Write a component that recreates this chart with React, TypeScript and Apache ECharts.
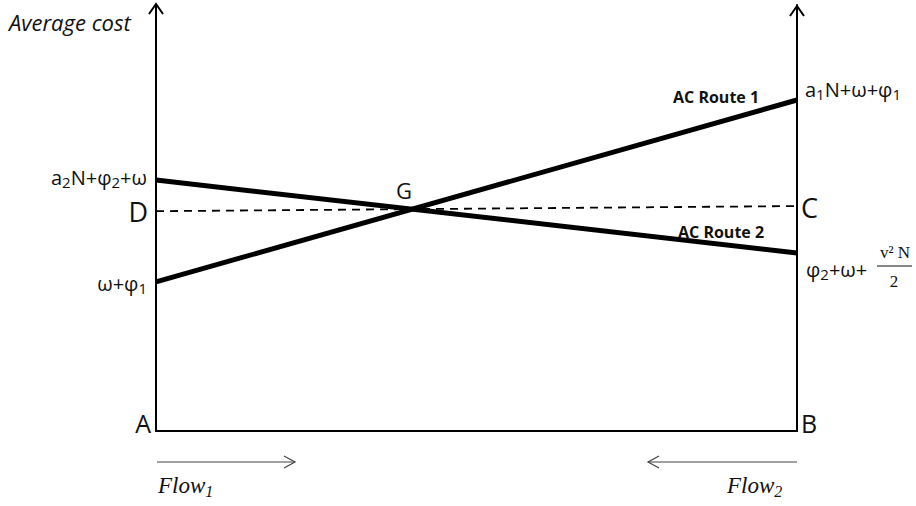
import React, { useEffect, useRef } from "react";
import * as echarts from "echarts";

const xs = [0, 100];
const route1 = [35.0, 77.7];
const route2 = [58.9, 41.8];
const equilibrium = [51.6, 52.8];

const GRID = { left: 156, right: 119, top: 5, bottom: 75 };
const TXT = "#111";
const SANS = "'Open Sans', 'Noto Sans', sans-serif";
const SERIF = "'Liberation Serif', 'DejaVu Serif', serif";

function pts(ys: number[]) {
  return xs.map((x, i) => [x, ys[i]]);
}

// parts: text with "_x" meaning subscript x, separated as array entries
function rt(
  x: number,
  y: number,
  parts: string[],
  size: number,
  sub: number,
  opt: any = {}
) {
  const fam = opt.family || SANS;
  const st = opt.style || "normal";
  const lh = Math.round(size * 1.2);
  const text = parts
    .map((p) => (p.startsWith("_") ? `{s|${p.slice(1)}}` : `{m|${p}}`))
    .join("");
  return {
    type: "text",
    x,
    y,
    style: {
      text,
      textAlign: opt.align || "left",
      textVerticalAlign: "middle",
      rich: {
        m: {
          fill: TXT,
          fontSize: size,
          fontFamily: fam,
          fontStyle: st,
          fontWeight: opt.weight || "normal",
          lineHeight: lh,
          verticalAlign: "middle",
        },
        s: {
          fill: TXT,
          fontSize: sub,
          fontFamily: fam,
          fontStyle: st,
          lineHeight: sub,
          verticalAlign: "bottom",
        },
      },
    },
  };
}

export default function App() {
  const ref = useRef<HTMLDivElement>(null);
  useEffect(() => {
    document.body.style.margin = "0";
    if (!ref.current) return;
    const chart = echarts.init(ref.current, null, { renderer: "svg" });
    const axisLine = { show: true, lineStyle: { color: "#000", width: 2 } };
    const hidden = {
      axisTick: { show: false },
      axisLabel: { show: false },
      splitLine: { show: false },
    };
    chart.setOption({
      animation: false,
      grid: GRID,
      xAxis: { type: "value", min: 0, max: 100, axisLine, ...hidden },
      yAxis: [
        { type: "value", min: 0, max: 100, axisLine, ...hidden },
        {
          type: "value",
          min: 0,
          max: 100,
          position: "right",
          axisLine: { ...axisLine, onZero: false },
          ...hidden,
        },
      ],
      series: [
        {
          type: "line",
          name: "AC Route 1",
          data: pts(route1),
          symbol: "none",
          lineStyle: { color: "#000", width: 5 },
        },
        {
          type: "line",
          name: "AC Route 2",
          data: pts(route2),
          symbol: "none",
          lineStyle: { color: "#000", width: 5 },
        },
        {
          type: "line",
          name: "DC",
          data: pts(equilibrium),
          symbol: "none",
          lineStyle: { color: "#000", width: 1.8, type: [8, 6] },
        },
      ],
      graphic: [
        // axis arrow heads
        { type: "polyline", shape: { points: [[149, 14], [156, 4], [163, 14]] }, style: { stroke: "#000", lineWidth: 2, fill: "none" } },
        { type: "polyline", shape: { points: [[790, 16], [797, 6], [804, 16]] }, style: { stroke: "#000", lineWidth: 2, fill: "none" } },
        // flow arrows
        { type: "line", shape: { x1: 157, y1: 462, x2: 295, y2: 462 }, style: { stroke: "#444", lineWidth: 1.2 } },
        { type: "polyline", shape: { points: [[284, 456], [295, 462], [284, 468]] }, style: { stroke: "#444", lineWidth: 1.2, fill: "none" } },
        { type: "line", shape: { x1: 648, y1: 462, x2: 797, y2: 462 }, style: { stroke: "#444", lineWidth: 1.2 } },
        { type: "polyline", shape: { points: [[659, 456], [648, 462], [659, 468]] }, style: { stroke: "#444", lineWidth: 1.2, fill: "none" } },
        rt(9, 22, ["Average cost"], 22, 14, { style: "italic" }),
        rt(147, 177, ["a", "_2", "N+φ", "_2", "+ω"], 20, 15, { align: "right" }),
        rt(148, 211, ["D"], 27, 14, { align: "right" }),
        rt(147, 283, ["ω+φ", "_1"], 20, 15, { align: "right" }),
        rt(151, 423, ["A"], 25, 14, { align: "right" }),
        rt(801, 423, ["B"], 25, 14),
        rt(404, 190, ["G"], 22, 14, { align: "center" }),
        rt(801, 207, ["C"], 27, 14),
        rt(805, 89, ["a", "_1", "N+ω+φ", "_1"], 20, 15),
        rt(673, 97, ["AC Route 1"], 16, 14, { weight: "bold" }),
        rt(678, 232, ["AC Route 2"], 16, 14, { weight: "bold" }),
        rt(806, 269, ["φ", "_2", "+ω+"], 20, 15),
        rt(895, 252, ["v² N"], 17, 12, { align: "center", family: SERIF }),
        { type: "line", shape: { x1: 877, y1: 266, x2: 912, y2: 266 }, style: { stroke: "#111", lineWidth: 1 } },
        rt(894, 281, ["2"], 17, 12, { align: "center", family: SERIF }),
        rt(158, 485, ["Flow", "_1"], 23, 16, { style: "italic", family: SERIF }),
        rt(727, 485, ["Flow", "_2"], 23, 16, { style: "italic", family: SERIF }),
      ],
    });
    return () => chart.dispose();
  }, []);
  return <div ref={ref} style={{ width: 916, height: 506 }} />;
}
